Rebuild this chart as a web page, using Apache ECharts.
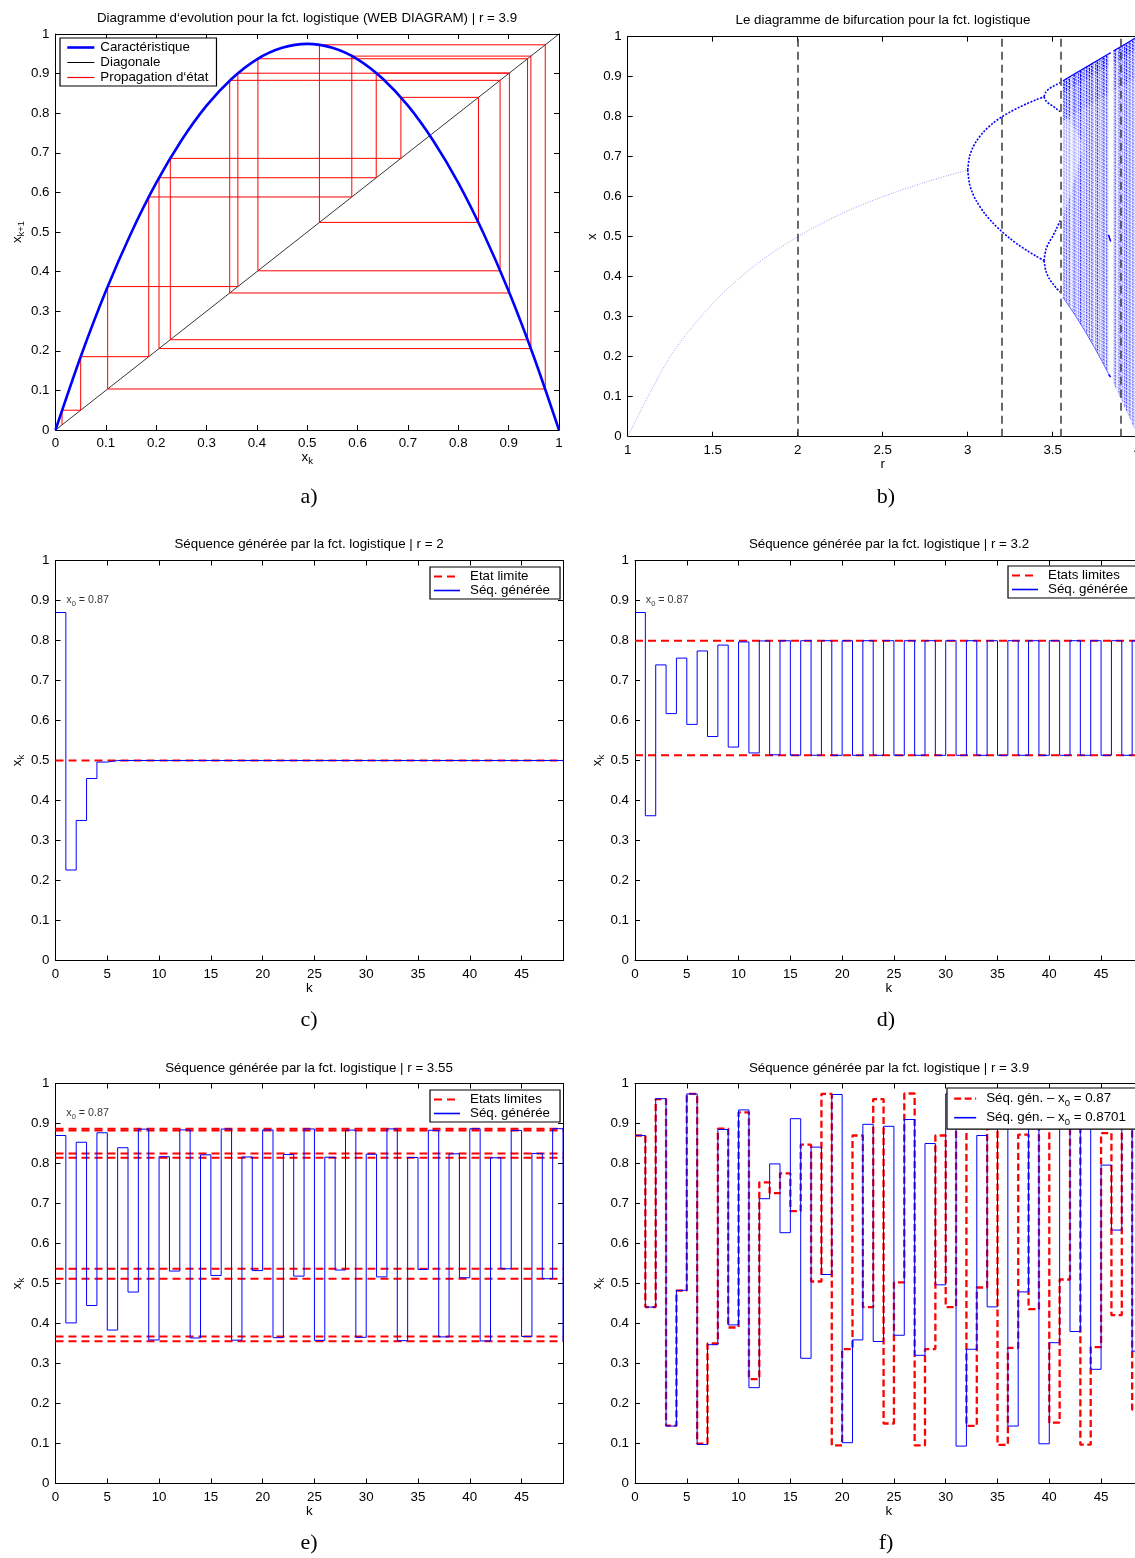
<!DOCTYPE html>
<html>
<head>
<meta charset="utf-8">
<script src="https://cdn.jsdelivr.net/npm/echarts@6/dist/echarts.min.js"></script>
<style>
html,body{margin:0;padding:0;background:#fff;}
#chart{width:1135px;height:1558px;}
</style>
</head>
<body>
<div id="chart"></div>
<script>
// ================= DATA =================
// Panel a) web diagram, r = 3.9
const curveX = [0,0.05,0.1,0.15,0.2,0.25,0.3,0.35,0.4,0.45,0.5,0.55,0.6,0.65,0.7,0.75,0.8,0.85,0.9,0.95,1];
const curveY = [0,0.185,0.351,0.497,0.624,0.731,0.819,0.887,0.936,0.965,0.975,0.965,0.936,0.887,0.819,0.731,0.624,0.497,0.351,0.185,0];
const diagonal = [0, 1];
const webX = [0.013,0.05,0.1852,0.5885,0.9442,0.2056,0.637,0.9015,0.346,0.883,0.402,0.9375,0.228,0.686,0.840,0.5242,0.9727,0.1036,0.3622,0.901];

// Panel b) bifurcation diagram
const fixedR = [1,1.25,1.5,1.75,2,2.25,2.5,2.75,3];
const fixedX = [0,0.2,0.333,0.429,0.5,0.556,0.6,0.636,0.667];
const p2R  = [3,3.01,3.025,3.05,3.1,3.15,3.2,3.25,3.3,3.35,3.4,3.449];
const p2Up = [0.667,0.699,0.718,0.738,0.765,0.784,0.7995,0.812,0.823,0.833,0.842,0.850];
const p2Lo = [0.667,0.633,0.613,0.590,0.558,0.5335,0.513,0.495,0.479,0.465,0.452,0.440];
const p4R = [3.449,3.46,3.48,3.5,3.52,3.544];
const p4A = [0.850,0.862,0.870,0.875,0.880,0.885];
const p4B = [0.850,0.840,0.832,0.827,0.820,0.813];
const p4C = [0.440,0.468,0.487,0.501,0.518,0.540];
const p4D = [0.440,0.414,0.395,0.383,0.372,0.362];
const chaosRA   = [3.56,3.57,3.6,3.63,3.65,3.68,3.7,3.75,3.8,3.828];
const chaosTopA = [0.890,0.8925,0.900,0.9075,0.9125,0.920,0.925,0.9375,0.950,0.957];
const chaosBotA = [0.3485,0.3425,0.324,0.3047,0.2914,0.2708,0.2567,0.2197,0.1805,0.1575];
const chaosRB   = [3.857,3.9,3.95,4.0];
const chaosTopB = [0.964,0.975,0.9875,1.0];
const chaosBotB = [0.133,0.0951,0.0488,0.0];
const gapR  = [3.56,3.57,3.6,3.63,3.65,3.68];
const gapHi = [0.808,0.804,0.7885,0.769,0.7537,0.729];
const gapLo = [0.552,0.563,0.600,0.645,0.678,0.729];
const winR   = [3.828,3.841];
const winHi  = [0.9574,0.9594];
const winMid = [0.5047,0.488];
const winLo  = [0.1561,0.1494];
const markedR = [2, 3.2, 3.55, 3.9];

// Panels c) .. f) generated sequences (k = 0..49)
const x0 = 0.87;
const kMax = 49;
const seqC = [0.87,0.2262,0.3501,0.4550,0.4960,0.4999,0.5,0.5,0.5,0.5,
  0.5,0.5,0.5,0.5,0.5,0.5,0.5,0.5,0.5,0.5,
  0.5,0.5,0.5,0.5,0.5,0.5,0.5,0.5,0.5,0.5,
  0.5,0.5,0.5,0.5,0.5,0.5,0.5,0.5,0.5,0.5,
  0.5,0.5,0.5,0.5,0.5,0.5,0.5,0.5,0.5,0.5];
const limC = [0.5];
const seqD = [0.87,0.3619,0.7390,0.6172,0.7560,0.5903,0.7739,0.5599,0.7885,0.5336,
  0.7964,0.5189,0.7989,0.5142,0.7994,0.5132,0.7995,0.5131,0.7995,0.5130,
  0.7995,0.5130,0.7995,0.5130,0.7995,0.5130,0.7995,0.5130,0.7995,0.5130,
  0.7995,0.5130,0.7995,0.5130,0.7995,0.5130,0.7995,0.5130,0.7995,0.5130,
  0.7995,0.5130,0.7995,0.5130,0.7995,0.5130,0.7995,0.5130,0.7995,0.5130];
const limD = [0.5130, 0.7995];
const seqE = [0.87,0.4015,0.8531,0.4450,0.8768,0.3836,0.8394,0.4786,0.8859,0.3589,
  0.8169,0.5311,0.8841,0.3639,0.8217,0.5201,0.8861,0.3584,0.8163,0.5323,
  0.8838,0.3646,0.8224,0.5185,0.8863,0.3578,0.8157,0.5337,0.8835,0.3655,
  0.8233,0.5165,0.8865,0.3571,0.8150,0.5352,0.8831,0.3665,0.8242,0.5143,
  0.8868,0.3564,0.8143,0.5368,0.8827,0.3676,0.8252,0.5120,0.8870,0.3559];
const limE = [0.3559,0.3676,0.5120,0.5368,0.8143,0.8252,0.8827,0.8870];
const seqF1 = [0.87,0.441,0.961,0.1445,0.482,0.974,0.0997,0.350,0.887,0.390,
  0.928,0.261,0.753,0.726,0.7755,0.681,0.847,0.505,0.974,0.0952,
  0.336,0.870,0.441,0.961,0.150,0.503,0.975,0.0951,0.336,0.870,
  0.441,0.962,0.144,0.490,0.974,0.0965,0.339,0.872,0.436,0.959,
  0.152,0.510,0.974,0.097,0.341,0.876,0.421,0.950,0.185,0.588];
const seqF2 = [0.8701,0.441,0.962,0.1436,0.483,0.974,0.0977,0.347,0.885,0.3965,
  0.934,0.2396,0.712,0.799,0.627,0.912,0.313,0.841,0.5225,0.9725,
  0.102,0.359,0.898,0.355,0.893,0.3706,0.910,0.3205,0.850,0.4967,
  0.974,0.0935,0.3356,0.870,0.4416,0.962,0.1436,0.479,0.973,0.0993,
  0.352,0.890,0.380,0.919,0.2855,0.796,0.6336,0.905,0.331,0.864];

// Texts
const panelTitles = [
  "Diagramme d\u2018evolution pour la fct. logistique (WEB DIAGRAM) | r = 3.9",
  "Le diagramme de bifurcation pour la fct. logistique",
  "S\u00e9quence g\u00e9n\u00e9r\u00e9e par la fct. logistique | r = 2",
  "S\u00e9quence g\u00e9n\u00e9r\u00e9e par la fct. logistique | r = 3.2",
  "S\u00e9quence g\u00e9n\u00e9r\u00e9e par la fct. logistique | r = 3.55",
  "S\u00e9quence g\u00e9n\u00e9r\u00e9e par la fct. logistique | r = 3.9"
];
const panelTags = ["a)","b)","c)","d)","e)","f)"];
const nameCurve = 'Caract\u00e9ristique';
const nameDiag = 'Diagonale';
const nameWeb = 'Propagation d\u2018\u00e9tat';
const nameLim1 = 'Etat limite';
const nameLims = 'Etats limites';
const nameSeq = 'S\u00e9q. g\u00e9n\u00e9r\u00e9e';
const nameF1 = "S\u00e9q. g\u00e9n. \u2013 x0 = 0.87";
const nameF2 = "S\u00e9q. g\u00e9n. \u2013 x0 = 0.8701";

// ================= LAYOUT / STYLE =================
const FONT = '"Liberation Sans", Arial, Helvetica, sans-serif';
const FS = 13.33;
const RICH = {
  m: {fontSize: FS, fontFamily: FONT, color: '#000', lineHeight: 18},
  s: {fontSize: 9.5, fontFamily: FONT, color: '#000', lineHeight: 10, verticalAlign: 'bottom'}
};
const gridBoxes = [
  {left:55.5, top:34,    width:503.5, height:396},
  {left:627.7, top:36.7, width:510,   height:400},
  {left:55.5, top:560.5, width:507.5, height:400},
  {left:635,  top:560.5, width:507.5, height:400},
  {left:55.5, top:1083.5,width:507.5, height:400},
  {left:635,  top:1083.5,width:507.5, height:400}
];
const axisSpecs = [
  {xmin:0, xmax:1, xint:0.1, xName:'{m|x}{s|k}', yName:'{m|x}{s|k+1}', xGap:15, yGap:29},
  {xmin:1, xmax:4, xint:0.5, xName:'r', yName:'x', xGap:18, yGap:27},
  {xmin:0, xmax:kMax, xint:5, xName:'k', yName:'{m|x}{s|k}', xGap:15, yGap:29},
  {xmin:0, xmax:kMax, xint:5, xName:'k', yName:'{m|x}{s|k}', xGap:15, yGap:29},
  {xmin:0, xmax:kMax, xint:5, xName:'k', yName:'{m|x}{s|k}', xGap:15, yGap:29},
  {xmin:0, xmax:kMax, xint:5, xName:'k', yName:'{m|x}{s|k}', xGap:15, yGap:29}
];

const grids = gridBoxes.map(g => Object.assign({outerBoundsMode:'none', containLabel:false, show:false}, g));
const xAxes = [], yAxes = [];
function baseAxis(gi, pos) {
  return {
    type:'value', gridIndex: gi, position: pos,
    axisLine:{show:true, onZero:false, lineStyle:{color:'#000', width:1}},
    axisTick:{show:true, inside:true, length:5, lineStyle:{color:'#000', width:1}},
    minorTick:{show:false}, splitLine:{show:false}, splitArea:{show:false}
  };
}
const labelStyle = {show:true, color:'#000', fontSize:FS, fontFamily:FONT, hideOverlap:false};
axisSpecs.forEach((s, gi) => {
  const multipleOf = (v) => Math.abs(v/s.xint - Math.round(v/s.xint)) < 1e-6;
  xAxes.push(Object.assign(baseAxis(gi,'bottom'), {
    min:s.xmin, max:s.xmax, interval:s.xint,
    axisLabel: Object.assign({}, labelStyle, {margin:7, formatter: v => multipleOf(v) ? String(+v.toFixed(4)) : ''}),
    name:s.xName, nameLocation:'middle', nameGap:s.xGap,
    nameTextStyle:{color:'#000', fontSize:FS, fontFamily:FONT, rich:RICH}
  }));
  xAxes.push(Object.assign(baseAxis(gi,'top'), {min:s.xmin, max:s.xmax, interval:s.xint, axisLabel:{show:false}}));
  yAxes.push(Object.assign(baseAxis(gi,'left'), {
    min:0, max:1, interval:0.1,
    axisLabel: Object.assign({}, labelStyle, {margin:6}),
    name:s.yName, nameLocation:'middle', nameGap:s.yGap, nameRotate:90,
    nameTextStyle:{color:'#000', fontSize:FS, fontFamily:FONT, rich:RICH}
  }));
  yAxes.push(Object.assign(baseAxis(gi,'right'), {min:0, max:1, interval:0.1, axisLabel:{show:false}}));
});

// stipple texture (style only) for the chaotic region of the bifurcation diagram
const STREAK  = [0.55,0.3,0.75,0.4,0.2,0.65,0.5,0.35,0.85,0.25,0.6,0.7,0.3,0.15,0.55,0.45,0.8,0.35,0.5,0.25,0.65,0.4,0.9];
const STREAK2 = [1,0.7,1.2,0.85,1.05,0.6,1.15,0.9,1.3,0.75,1.0];
const DOTS = [1,0.5,1.35,0.8,0.35,1.15,0.9];
function stipple(level) {
  const W = STREAK.length * STREAK2.length, H = DOTS.length;
  const cv = document.createElement('canvas'); cv.width = W; cv.height = H;
  const ctx = cv.getContext('2d');
  for (let i = 0; i < W; i++) for (let j = 0; j < H; j++) {
    let a = level * STREAK[i % STREAK.length] * STREAK2[i % STREAK2.length] * DOTS[(j + 3*i) % H];
    a = Math.max(0, Math.min(1, a));
    const c = Math.round(255 * (1 - a));
    ctx.fillStyle = 'rgb(' + c + ',' + c + ',255)';
    ctx.fillRect(i, j, 1, 1);
  }
  return {image: cv, repeat: 'repeat'};
}

// line styles
const CURVE_STYLE = {color:'#0000ff', width:2.6, type:'solid'};
const DIAG_STYLE  = {color:'#000000', width:0.8, type:'solid'};
const WEB_STYLE   = {color:'#ff0000', width:1, type:'solid'};
const RED_LIM     = {color:'#ff0000', width:2, type:[8,5]};
const BLUE        = {color:'#0000ff', width:1, type:'solid'};
const RED_F       = {color:'#ff0000', width:2.3, type:[7,3.5]};
const BRANCH      = {color:'#0000ff', width:1.6, type:[2,1.5]};

const pair = (xs, ys) => xs.map((x, i) => [x, ys[i]]);
const ax = gi => ({xAxisIndex: 2*gi, yAxisIndex: 2*gi});
function plainLine(gi, name, data, lineStyle, extra) {
  return Object.assign({type:'line', name, data, symbol:'none', showSymbol:false, silent:true,
    lineStyle: Object.assign({}, lineStyle), itemStyle:{color: lineStyle.color}, emphasis:{disabled:true}}, ax(gi), extra || {});
}
function band(gi, rs, his, los, fill, z) {
  return Object.assign({
    type:'custom', clip:true, silent:true, z,
    data: rs.map((r, i) => [r, his[i], los[i]]),
    encode:{x:0, y:[1,2]},
    renderItem: (params, api) => {
      if (params.dataIndex !== 0) return null;
      const pts = [];
      for (let i = 0; i < rs.length; i++) pts.push(api.coord([rs[i], his[i]]));
      for (let i = rs.length - 1; i >= 0; i--) pts.push(api.coord([rs[i], los[i]]));
      return {type:'polygon', shape:{points: pts}, style:{fill: fill, stroke: null}};
    }
  }, ax(gi));
}
const x0Label = '{m|x}{s|0}{m| = ' + x0 + '}';
const noteRich = {m:{fontSize:10.7, fontFamily:FONT, color:'#000', lineHeight:14}, s:{fontSize:7.5, fontFamily:FONT, color:'#000', lineHeight:8, verticalAlign:'bottom'}};
function note(gi, at) {
  return Object.assign({type:'scatter', data:[at], symbolSize:1, itemStyle:{color:'rgba(0,0,0,0)'}, silent:true, z:6,
    label:{show:true, position:'right', distance:0, formatter: x0Label, rich: noteRich}}, ax(gi));
}
function limitSeries(gi, name, lims) {
  return lims.map((v, i) => plainLine(gi, i === 0 ? name : name + ' #' + i, [[0, v], [kMax, v]], RED_LIM, {z:2}));
}
const stairs = (seq) => seq.map((v, k) => [k, v]);

// web diagram path
const webPts = [[webX[0], webX[0]]];
for (let i = 0; i < webX.length - 1; i++) { webPts.push([webX[i], webX[i+1]]); webPts.push([webX[i+1], webX[i+1]]); }

const series = [
  // a)
  plainLine(0, nameCurve, pair(curveX, curveY), CURVE_STYLE, {smooth:0.3, z:5}),
  plainLine(0, nameDiag, diagonal.map(v => [v, v]), DIAG_STYLE, {z:3}),
  plainLine(0, nameWeb, webPts, WEB_STYLE, {z:4}),
  // b)
  band(1, chaosRA, chaosTopA, chaosBotA, stipple(0.62), 2),
  band(1, chaosRB, chaosTopB, chaosBotB, stipple(0.62), 2),
  band(1, gapR, gapHi, gapLo, stipple(0.38), 3),
  band(1, chaosRA, chaosTopA, chaosTopA.map(v => v - 0.1), stipple(0.8), 3),
  band(1, chaosRB, chaosTopB, chaosTopB.map(v => v - 0.1), stipple(0.8), 3),
  band(1, chaosRA, chaosTopA, chaosTopA.map(v => v - 0.03), stipple(1.05), 3),
  band(1, chaosRB, chaosTopB, chaosTopB.map(v => v - 0.03), stipple(1.05), 3),
  plainLine(1, 'edgeTopA', pair(chaosRA, chaosTopA), {color:'#0000ff', width:1.2}, {z:4}),
  plainLine(1, 'edgeTopB', pair(chaosRB, chaosTopB), {color:'#0000ff', width:1.2}, {z:4}),
  plainLine(1, 'edgeBotA', pair(chaosRA, chaosBotA), {color:'#3030ff', width:1, opacity:0.7}, {z:4}),
  plainLine(1, 'fixed', pair(fixedR, fixedX), {color:'#9c9cff', width:1, type:[1,1.5]}, {smooth:0.3, z:4,
    markLine:{silent:true, symbol:['none','none'], label:{show:false}, animation:false,
      lineStyle:{color:'#3a3a3a', width:1.5, type:[8,5]}, data: markedR.map(r => ({xAxis:r}))}}),
  plainLine(1, 'p2u', pair(p2R, p2Up), BRANCH, {smooth:0.3, z:4}),
  plainLine(1, 'p2l', pair(p2R, p2Lo), BRANCH, {smooth:0.3, z:4}),
  plainLine(1, 'p4a', pair(p4R, p4A), BRANCH, {smooth:0.3, z:4}),
  plainLine(1, 'p4b', pair(p4R, p4B), BRANCH, {smooth:0.3, z:4}),
  plainLine(1, 'p4c', pair(p4R, p4C), BRANCH, {smooth:0.3, z:4}),
  plainLine(1, 'p4d', pair(p4R, p4D), BRANCH, {smooth:0.3, z:4}),
  plainLine(1, 'w1', pair(winR, winHi), {color:'#0000ff', width:1.5}, {z:4}),
  plainLine(1, 'w2', pair(winR, winMid), {color:'#0000ff', width:1.5}, {z:4}),
  plainLine(1, 'w3', pair(winR, winLo), {color:'#0000ff', width:1.5}, {z:4}),
  // c)
  ...limitSeries(2, nameLim1, limC),
  plainLine(2, nameSeq, stairs(seqC), BLUE, {step:'end', z:3}),
  note(2, [1, 0.9]),
  // d)
  ...limitSeries(3, nameLims, limD),
  plainLine(3, nameSeq, stairs(seqD), BLUE, {step:'end', z:3}),
  note(3, [1, 0.9]),
  // e)
  ...limitSeries(4, nameLims, limE),
  plainLine(4, nameSeq, stairs(seqE), BLUE, {step:'end', z:3}),
  note(4, [1, 0.925]),
  // f)
  plainLine(5, nameF1, stairs(seqF1), RED_F, {step:'end', z:2}),
  plainLine(5, nameF2, stairs(seqF2), BLUE, {step:'end', z:3})
];

function legItem(name, st, minW) {
  return {name, lineStyle:{color: st.color, width: Math.max(minW, st.width), type: st.type || 'solid', opacity:1}};
}
function legendOf(left, top, items, extra) {
  return Object.assign({
    orient:'vertical', left, top, backgroundColor:'#fff', borderColor:'#000', borderWidth:1.2, borderRadius:0,
    padding:[3,10,2,3], itemWidth:26, itemHeight:14, itemGap:1, selectedMode:false, z:20,
    itemStyle:{color:'rgba(0,0,0,0)', borderColor:'rgba(0,0,0,0)', borderWidth:0, opacity:0},
    textStyle:{fontSize:FS, fontFamily:FONT, color:'#000', padding:[0,0,0,5]},
    data: items
  }, extra || {});
}
const legRich = {m:{fontSize:FS, fontFamily:FONT, color:'#000', lineHeight:19}, s:{fontSize:9.5, fontFamily:FONT, color:'#000', lineHeight:10, verticalAlign:'bottom'}};
const legends = [
  legendOf(60, 38, [legItem(nameCurve, CURVE_STYLE, 1), legItem(nameDiag, DIAG_STYLE, 1), legItem(nameWeb, WEB_STYLE, 1.2)],
    {itemWidth:27, itemGap:2, padding:[3,8,2,6], textStyle:{fontSize:FS, fontFamily:FONT, color:'#000', padding:[0,0,0,1]}}),
  legendOf(430, 567, [legItem(nameLim1, RED_LIM, 1), legItem(nameSeq, BLUE, 1.6)]),
  legendOf(1008, 566, [legItem(nameLims, RED_LIM, 1), legItem(nameSeq, BLUE, 1.6)]),
  legendOf(430, 1090, [legItem(nameLims, RED_LIM, 1), legItem(nameSeq, BLUE, 1.6)]),
  legendOf(947, 1088, [legItem(nameF1, RED_F, 1), legItem(nameF2, BLUE, 1.6)], {
    itemGap:2, itemWidth:22, itemHeight:19, padding:[3,10,2,6],
    formatter: n => { const p = n.split('x0'); return '{m|' + p[0] + 'x}{s|0}{m|' + p[1] + '}'; },
    textStyle:{fontSize:FS, fontFamily:FONT, color:'#000', padding:[0,0,0,5], rich:legRich}})
];

const titleCenters = [[307,18],[883,20],[309,544],[889,544],[309,1068],[889,1068]];
const tagCenters = [[309,497],[886,497],[309,1020],[886,1020],[309,1543],[886,1543]];
const graphics = [];
panelTitles.forEach((t, i) => graphics.push({type:'text', x:titleCenters[i][0], y:titleCenters[i][1], silent:true,
  style:{text:t, fill:'#000', font: FS + 'px ' + FONT, align:'center', verticalAlign:'middle'}}));
panelTags.forEach((t, i) => graphics.push({type:'text', x:tagCenters[i][0], y:tagCenters[i][1], silent:true,
  style:{text:t, fill:'#000', font: '22px "Liberation Serif", "DejaVu Serif", serif', align:'center', verticalAlign:'middle'}}));

const chart = echarts.init(document.getElementById('chart'), null, {renderer:'canvas'});
chart.setOption({
  animation:false,
  backgroundColor:'#fff',
  textStyle:{fontFamily:FONT},
  grid: grids,
  xAxis: xAxes,
  yAxis: yAxes,
  legend: legends,
  series: series,
  graphic: graphics
});
</script>
</body>
</html>
